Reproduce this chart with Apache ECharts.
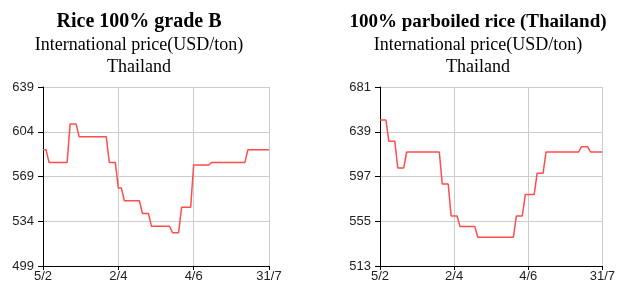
<!DOCTYPE html>
<html>
<head>
<meta charset="utf-8">
<script src="https://cdn.jsdelivr.net/npm/echarts@6/dist/echarts.min.js"></script>
<style>
html,body{margin:0;padding:0;background:#fff;}
#c{width:618px;height:287px;}
</style>
</head>
<body>
<div id="c"></div>
<script>
// X tick labels (category axis, label every 25 points)
var tickLabels = ['5/2', '2/4', '4/6', '31/7'];

// Rice 100% grade B, Thailand (USD/ton)
var riceGradeB = [590,590,
  580,580,580,580,580,580,580,
  610,610,610,
  600,600,600,600,600,600,600,600,600,600,
  580,580,580,
  560,560,
  550,550,550,550,550,550,
  540,540,540,
  530,530,530,530,530,530,530,
  525,525,525,
  545,545,545,545,
  578,578,578,578,578,578,
  580,580,580,580,580,580,580,580,580,580,580,580,
  590,590,590,590,590,590,590,590];

// 100% parboiled rice, Thailand (USD/ton)
var parboiled = [650,650,650,
  630,630,630,
  605,605,605,
  620,620,620,620,620,620,620,620,620,620,620,620,
  590,590,590,
  560,560,560,
  550,550,550,550,550,550,
  540,540,540,540,540,540,540,540,540,540,540,540,540,
  560,560,560,
  580,580,580,580,
  600,600,600,
  620,620,620,620,620,620,620,620,620,620,620,620,
  625,625,625,
  620,620,620,620,620];

var yTicksLeft = [499, 534, 569, 604, 639];
var yTicksRight = [513, 555, 597, 639, 681];

var titles = ['Rice 100% grade B', '100% parboiled rice (Thailand)'];
var subtitle = 'International price(USD/ton)\nThailand';

var labelStep = 25;
var categories = riceGradeB.map(function (v, i) {
  return i % labelStep === 0 ? tickLabels[i / labelStep] : '';
});

function makeX(gi) {
  return {
    type: 'category', gridIndex: gi, data: categories, boundaryGap: false,
    axisLine: {lineStyle: {color: '#000', width: 1}},
    axisTick: {show: true, interval: labelStep - 1, length: 4, lineStyle: {color: '#000'}},
    axisLabel: {interval: labelStep - 1, color: '#222', fontFamily: 'Liberation Sans', fontSize: 13, margin: 4},
    splitLine: {show: true, interval: labelStep - 1, lineStyle: {color: '#cccccc', width: 1}}
  };
}
function makeY(gi, ticks) {
  return {
    type: 'value', gridIndex: gi, min: ticks[0], max: ticks[ticks.length - 1],
    interval: ticks[1] - ticks[0],
    axisLine: {show: true, lineStyle: {color: '#000', width: 1}},
    axisTick: {show: true, length: 5, lineStyle: {color: '#000'}},
    axisLabel: {color: '#222', fontFamily: 'Liberation Sans', fontSize: 13, margin: 9},
    splitLine: {show: true, lineStyle: {color: '#cccccc', width: 1}}
  };
}
function makeTitle(text, cx, fs) {
  return {
    text: text, subtext: subtitle, left: cx, top: 11, textAlign: 'center',
    padding: 0, itemGap: 1,
    textStyle: {fontFamily: 'Liberation Serif', fontWeight: 'bold', fontSize: fs, color: '#000', lineHeight: 22},
    subtextStyle: {fontFamily: 'Liberation Serif', fontSize: 18, color: '#000', lineHeight: 22}
  };
}

var chart = echarts.init(document.getElementById('c'), null, {renderer: 'canvas'});
chart.setOption({
  animation: false,
  backgroundColor: '#fff',
  title: [makeTitle(titles[0], 139, 20), makeTitle(titles[1], 478, 19)],
  grid: [
    {left: 43, top: 87, width: 226, height: 179},
    {left: 380, top: 87, width: 227, height: 179}
  ],
  xAxis: [makeX(0), makeX(1)],
  yAxis: [makeY(0, yTicksLeft), makeY(1, yTicksRight)],
  series: [
    {type: 'line', xAxisIndex: 0, yAxisIndex: 0, data: riceGradeB, showSymbol: false,
     lineStyle: {color: '#ff4d4d', width: 1.5}},
    {type: 'line', xAxisIndex: 1, yAxisIndex: 1, data: parboiled, showSymbol: false,
     lineStyle: {color: '#ff4d4d', width: 1.5}}
  ]
});
</script>
</body>
</html>
